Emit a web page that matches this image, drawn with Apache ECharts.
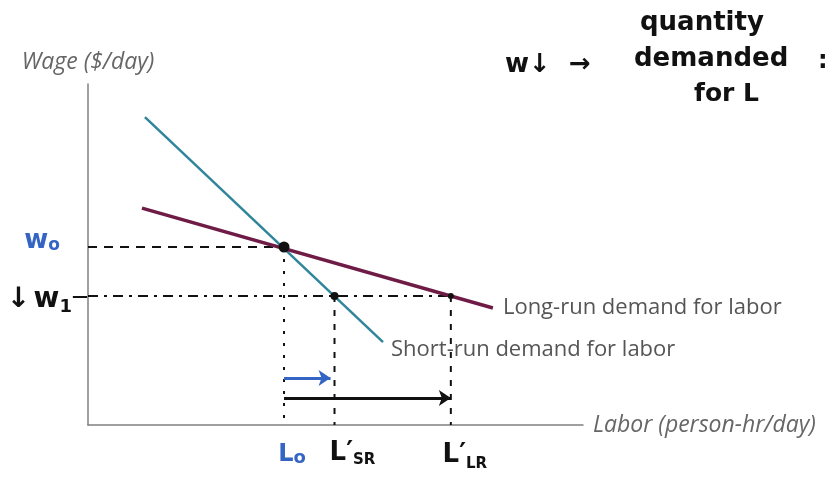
<!DOCTYPE html>
<html>
<head>
<meta charset="utf-8">
<script src="https://cdn.jsdelivr.net/npm/echarts@6/dist/echarts.min.js"></script>
<style>
  html, body { margin: 0; padding: 0; background: #fff; }
  #chart { width: 829px; height: 481px; }
</style>
</head>
<body>
<div id="chart"></div>
<script>
// Demand curves for labor (wage vs labor), in arbitrary units 0..10
const shortRunX = [1.15, 5.96];
const shortRunY = [9.03, 2.43];
const longRunX = [1.09, 8.18];
const longRunY = [6.36, 3.43];

// Wage levels and the labor quantities they lead to
const wageLevels = { w0: 5.22, w1: 3.78 };
const laborLevels = { L0: 3.96, LSR: 4.98, LLR: 7.33 };

// Heights of the two shift arrows above the labor axis
const arrowHeights = { shortRun: 1.38, longRun: 0.79 };

const hand = '"DejaVu Sans", sans-serif';
const print = '"Open Sans", sans-serif';
const blue = '#3565c4';
const ink = '#111';

const pair = (xs, ys) => xs.map((x, i) => [x, ys[i]]);
const { w0, w1 } = wageLevels;
const { L0, LSR, LLR } = laborLevels;

const dashed = (data, type) => ({
  type: 'line', data, symbol: 'none', silent: true, clip: false, z: 1,
  lineStyle: { color: ink, width: 2, type: type || [9, 7] }
});

// rich text piece for handwritten notes
const piece = (size, color, pad) => ({
  fontSize: size, color, fontWeight: 'bold', fontFamily: hand,
  textBorderWidth: 0, padding: pad || 0
});

const chart = echarts.init(document.getElementById('chart'), null, { renderer: 'canvas' });
chart.setOption({
  animation: false,
  backgroundColor: '#fff',
  grid: { left: 88, right: 246, top: 84, bottom: 56 },
  xAxis: {
    type: 'value', min: 0, max: 10,
    axisLine: { lineStyle: { color: '#808080', width: 1.5 } },
    axisTick: { show: false }, axisLabel: { show: false }, splitLine: { show: false },
    name: 'Labor (person-hr/day)', nameLocation: 'end', nameGap: 10,
    nameTextStyle: { fontFamily: print, fontStyle: 'italic', fontSize: 23, color: '#666' }
  },
  yAxis: {
    type: 'value', min: 0, max: 10,
    axisLine: { lineStyle: { color: '#808080', width: 1.5 } },
    axisTick: { show: false }, axisLabel: { show: false }, splitLine: { show: false },
    name: 'Wage ($/day)', nameLocation: 'end', nameGap: 10,
    nameTextStyle: { fontFamily: print, fontStyle: 'italic', fontSize: 23, color: '#666' }
  },
  series: [
    // guide lines
    dashed([[0, w0], [L0, w0]]),
    dashed([[0, w1], [LLR, w1]], [10, 6, 3, 6]),
    dashed([[L0, w0], [L0, 0]], [3, 9]),
    dashed([[LSR, w1], [LSR, 0]], [6, 8]),
    dashed([[LLR, w1], [LLR, 0]], [6, 8]),
    {
      type: 'line', name: 'Short-run demand for labor', data: pair(shortRunX, shortRunY),
      symbol: 'none', z: 3,
      lineStyle: { color: '#2f8599', width: 2.5 },
      endLabel: { show: true, formatter: '{a}', distance: 8, offset: [0, 8],
        fontFamily: print, fontSize: 22, color: '#555' }
    },
    {
      type: 'line', name: 'Long-run demand for labor', data: pair(longRunX, longRunY),
      symbol: 'none', z: 3,
      lineStyle: { color: '#6e1c46', width: 3.5 },
      endLabel: { show: true, formatter: '{a}', distance: 10,
        fontFamily: print, fontSize: 22, color: '#555' }
    },
    // equilibrium points
    {
      type: 'scatter', z: 5, silent: true,
      data: [
        { value: [L0, w0], symbolSize: 11 },
        { value: [LSR, w1], symbolSize: 8 },
        { value: [LLR, w1], symbolSize: 6 }
      ],
      itemStyle: { color: ink, opacity: 1 }
    },
    // shift arrows
    {
      type: 'lines', coordinateSystem: 'cartesian2d', z: 4, silent: true,
      symbol: ['none', 'arrow'], symbolSize: 12,
      data: [
        { coords: [[L0, arrowHeights.shortRun], [LSR - 0.08, arrowHeights.shortRun]],
          lineStyle: { color: blue, width: 3 } },
        { coords: [[L0, arrowHeights.longRun], [LLR, arrowHeights.longRun]],
          lineStyle: { color: ink, width: 3 } }
      ],
      lineStyle: { opacity: 1, curveness: 0 }
    },
    // wage level labels
    {
      type: 'scatter', symbolSize: 0, silent: true, clip: false, z: 6,
      itemStyle: { opacity: 1 },
      data: [
        { value: [0, w0], label: { show: true, position: 'left', distance: 28, offset: [0, -6],
          color: blue, opacity: 1,
          formatter: '{m|w}{s|o}',
          rich: { m: piece(26, blue), s: piece(17, blue, [10, 0, 0, 0]) } } },
        { value: [0, w1], label: { show: true, position: 'left', distance: 0, offset: [0, 4],
          color: ink, opacity: 1,
          formatter: '{a|↓} {m|w}{s|1}{d|—}',
          rich: { a: piece(28, ink), m: piece(28, ink), s: piece(18, ink, [14, 0, 0, 0]),
                  d: piece(16, ink, [0, 0, 6, 0]) } } }
      ]
    },
    // labor level labels
    {
      type: 'scatter', symbolSize: 0, silent: true, clip: false, z: 6,
      itemStyle: { opacity: 1 },
      data: [
        { value: [L0, 0], label: { show: true, position: 'bottom', distance: 18, offset: [8, 0],
          color: blue, opacity: 1,
          formatter: '{m|L}{s|o}',
          rich: { m: piece(24, blue), s: piece(18, blue, [6, 0, 0, 0]) } } },
        { value: [LSR, 0], label: { show: true, position: 'bottom', distance: 14, offset: [18, 0],
          color: ink, opacity: 1,
          formatter: '{m|L′}{s|SR}',
          rich: { m: piece(26, ink), s: piece(15, ink, [14, 0, 0, 0]) } } },
        { value: [LLR, 0], label: { show: true, position: 'bottom', distance: 14, offset: [14, 0],
          color: ink, opacity: 1,
          formatter: '{m|L′}{s|LR}',
          rich: { m: piece(26, ink), s: piece(15, ink, [18, 0, 0, 0]) } } }
      ]
    }
  ],
  graphic: [
    { type: 'text', left: 505, top: 52, style: { text: 'w↓  →', font: 'bold 26px ' + hand, fill: ink } },
    { type: 'text', left: 640, top: 10, style: { text: 'quantity', font: 'bold 26px ' + hand, fill: ink } },
    { type: 'text', left: 634, top: 46, style: { text: 'demanded', font: 'bold 26px ' + hand, fill: ink } },
    { type: 'text', left: 694, top: 82, style: { text: 'for L', font: 'bold 25px ' + hand, fill: ink } },
    { type: 'text', left: 818, top: 50, style: { text: ':', font: 'bold 24px ' + hand, fill: ink } }
  ]
});
</script>
</body>
</html>
